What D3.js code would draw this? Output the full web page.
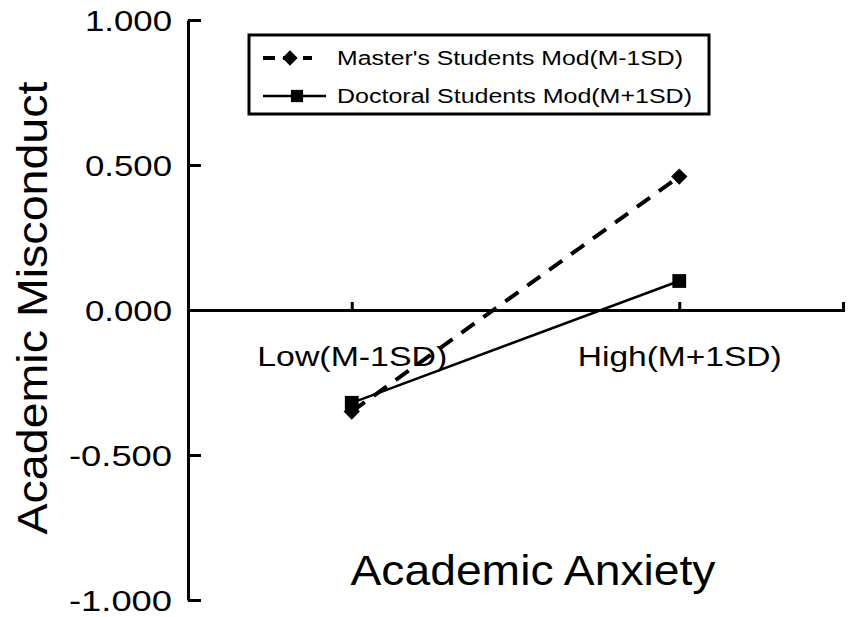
<!DOCTYPE html>
<html>
<head>
<meta charset="utf-8">
<script src="https://cdn.jsdelivr.net/npm/d3@7"></script>
<style>
  body { margin: 0; background: #fff; }
  text { font-family: "Liberation Sans", Arial, sans-serif; fill: #000; }
</style>
</head>
<body>
<div id="chart-area"></div>
<script>
// Data
const categories = ["Low(M-1SD)", "High(M+1SD)"]
const seriesNames = ["Master's Students Mod(M-1SD)", "Doctoral Students Mod(M+1SD)"]
const masterValues = [-0.35, 0.46]
const doctoralValues = [-0.32, 0.10]
const yTicks = [-1, -0.5, 0, 0.5, 1]

// Canvas
const width = 851, height = 617
const svg = d3.select("#chart-area")
	.append("svg")
	.attr("width", width)
	.attr("height", height)

// Scales
const x = d3.scalePoint().domain(categories).range([188, 843]).padding(0.5)
const y = d3.scaleLinear().domain([-1, 1]).range([600, 20])

// plain hyphen instead of the unicode minus
const fmt = d => d3.format(".3f")(d).replace("\u2212", "-")

// Y axis
const yAxis = svg.append("g")
	.attr("transform", "translate(188,0)")
	.call(d3.axisLeft(y).tickValues(yTicks).tickFormat(fmt)
		.tickSizeInner(-13).tickSizeOuter(0).tickPadding(16))
yAxis.selectAll("path, line").attr("stroke", "#000").attr("stroke-width", 3)
yAxis.selectAll("text")
	.attr("font-size", 29)
	.attr("textLength", d => d < 0 ? 103 : 87)
	.attr("lengthAdjust", "spacingAndGlyphs")
	.attr("dy", "0.36em")

// X axis (crosses at zero)
const xAxis = svg.append("g")
	.attr("transform", `translate(0,${y(0)})`)
	.call(d3.axisBottom(x).tickSizeInner(-8).tickSizeOuter(-8).tickPadding(36))
xAxis.selectAll("path, line").attr("stroke", "#000").attr("stroke-width", 3)
xAxis.selectAll("text")
	.attr("font-size", 28)
	.attr("textLength", d => d === categories[0] ? 190 : 204)
	.attr("lengthAdjust", "spacingAndGlyphs")

// Axis titles
svg.append("text")
	.attr("transform", "rotate(-90)")
	.attr("x", -308)
	.attr("y", 47)
	.attr("text-anchor", "middle")
	.attr("font-size", 42)
	.attr("textLength", 453)
	.attr("lengthAdjust", "spacingAndGlyphs")
	.text("Academic Misconduct")

svg.append("text")
	.attr("x", 533)
	.attr("y", 585)
	.attr("text-anchor", "middle")
	.attr("font-size", 42)
	.attr("textLength", 365)
	.attr("lengthAdjust", "spacingAndGlyphs")
	.text("Academic Anxiety")

// Lines
const line = d3.line()
	.x((d, i) => x(categories[i]))
	.y(d => y(d))

svg.append("path")
	.attr("d", line(doctoralValues))
	.attr("fill", "none")
	.attr("stroke", "#000")
	.attr("stroke-width", 2.5)

svg.append("path")
	.attr("d", line(masterValues))
	.attr("fill", "none")
	.attr("stroke", "#000")
	.attr("stroke-width", 4)
	.attr("stroke-dasharray", "16,11")

const diamond = d3.symbol().type(d3.symbolDiamond2).size(170)
const square = d3.symbol().type(d3.symbolSquare).size(190)

svg.selectAll(".master-pt")
	.data(masterValues)
	.join("path")
	.attr("class", "master-pt")
	.attr("d", diamond)
	.attr("transform", (d, i) => `translate(${x(categories[i])},${y(d)})`)
	.attr("fill", "#000")

svg.selectAll(".doctoral-pt")
	.data(doctoralValues)
	.join("path")
	.attr("class", "doctoral-pt")
	.attr("d", square)
	.attr("transform", (d, i) => `translate(${x(categories[i])},${y(d)})`)
	.attr("fill", "#000")

// Legend
const legend = svg.append("g")
legend.append("rect")
	.attr("x", 249).attr("y", 35)
	.attr("width", 460).attr("height", 79)
	.attr("fill", "#fff")
	.attr("stroke", "#000")
	.attr("stroke-width", 3)

const legendDiamond = d3.symbol().type(d3.symbolDiamond2).size(150)
const legendSquare = d3.symbol().type(d3.symbolSquare).size(150)
const rows = [
	{ name: seriesNames[0], y: 58, dash: "12,8", w: 4, mark: legendDiamond, mx: 290, x2: 312, tl: 346 },
	{ name: seriesNames[1], y: 96, dash: null, w: 2.5, mark: legendSquare, mx: 297, x2: 326, tl: 355 }
]
rows.forEach(r => {
	legend.append("line")
		.attr("x1", 263).attr("x2", r.x2)
		.attr("y1", r.y).attr("y2", r.y)
		.attr("stroke", "#000")
		.attr("stroke-width", r.w)
		.attr("stroke-dasharray", r.dash)
	legend.append("path")
		.attr("d", r.mark())
		.attr("transform", `translate(${r.mx},${r.y})`)
		.attr("fill", "#000")
	legend.append("text")
		.attr("x", 337)
		.attr("y", r.y)
		.attr("dy", "0.36em")
		.attr("font-size", 20)
		.attr("textLength", r.tl)
		.attr("lengthAdjust", "spacingAndGlyphs")
		.text(r.name)
})
</script>
</body>
</html>
